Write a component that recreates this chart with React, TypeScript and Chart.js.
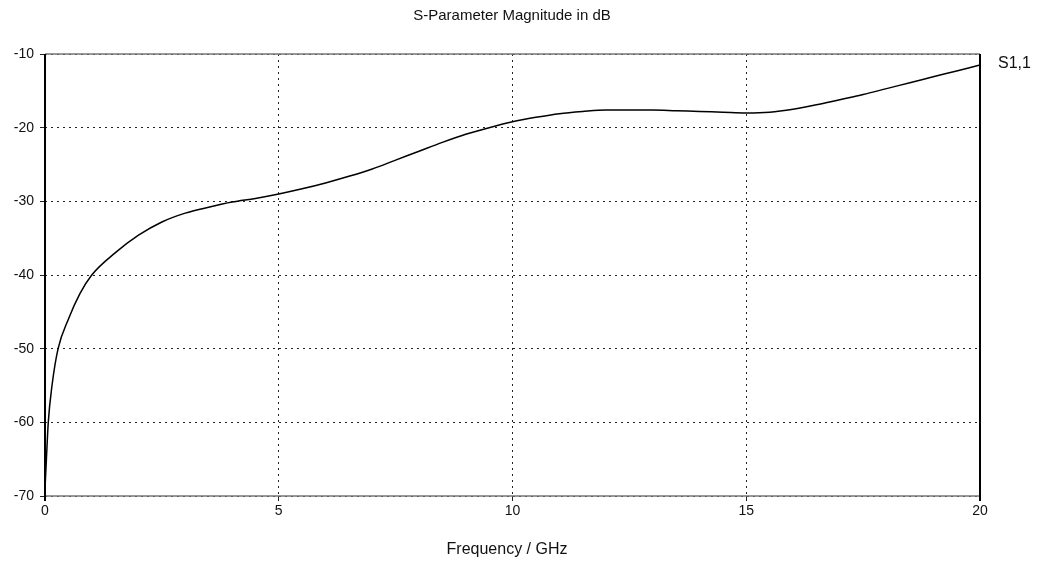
import React, { useEffect, useRef } from "react";
import { Chart, registerables } from "chart.js";

Chart.register(...registerables);

// Frequency sweep (GHz) and S1,1 magnitude (dB)
const frequencyGHz = [
  0, 0.03, 0.07, 0.15, 0.28, 0.5, 0.75, 1.0, 1.5, 2.0, 2.5, 3.0, 3.5, 4.0, 4.5, 5.0,
  5.5, 6.0, 6.5, 7.0, 7.5, 8.0, 8.5, 9.0, 9.5, 10.0, 10.5, 11.0, 11.5, 12.0, 12.5,
  13.0, 13.5, 14.0, 14.5, 15.0, 15.5, 16.0, 16.5, 17.0, 17.5, 18.0, 18.5, 19.0, 19.5, 20.0,
];
const s11dB = [
  -69, -65, -60, -55, -50, -46, -42.5, -40, -37, -34.6, -32.8, -31.6, -30.8, -30.1, -29.6, -29.0,
  -28.3, -27.5, -26.6, -25.6, -24.4, -23.2, -22.0, -20.9, -20.0, -19.2, -18.6, -18.1, -17.8, -17.6, -17.6,
  -17.6, -17.7, -17.8, -17.9, -18.0, -17.9, -17.5, -16.9, -16.2, -15.5, -14.7, -13.9, -13.1, -12.3, -11.5,
];

const seriesName = "S1,1";
const chartTitle = "S-Parameter Magnitude in dB";
const xAxisTitle = "Frequency / GHz";
const xTicks = [0, 5, 10, 15, 20];
const yTicks = [-70, -60, -50, -40, -30, -20, -10];

const FONT = "'Liberation Sans', Arial, sans-serif";

const framePlugin = {
  id: "frameAndLabels",
  afterDraw(chart: any) {
    const { ctx, chartArea, scales } = chart;
    const { left, right, top, bottom } = chartArea;
    ctx.save();
    // top and bottom frame lines (grey)
    ctx.strokeStyle = "#777";
    ctx.lineWidth = 1.5;
    ctx.beginPath();
    ctx.moveTo(left, top);
    ctx.lineTo(right, top);
    ctx.moveTo(left, bottom);
    ctx.lineTo(right, bottom);
    ctx.stroke();
    // left and right frame lines (black)
    ctx.strokeStyle = "#000";
    ctx.lineWidth = 2;
    ctx.beginPath();
    ctx.moveTo(left, top);
    ctx.lineTo(left, bottom + 5);
    ctx.moveTo(right, top);
    ctx.lineTo(right, bottom + 5);
    ctx.stroke();

    // texts
    ctx.fillStyle = "#111";
    ctx.font = `15px ${FONT}`;
    ctx.textAlign = "center";
    ctx.textBaseline = "middle";
    ctx.fillText(chartTitle, 512, 16);
    ctx.font = `16px ${FONT}`;
    ctx.fillText(xAxisTitle, 507, 550);

    // series label at the end of the trace
    const lastY = scales.y.getPixelForValue(s11dB[s11dB.length - 1]);
    ctx.font = `16px ${FONT}`;
    ctx.textAlign = "left";
    ctx.fillText(seriesName, right + 18, lastY - 1);
    ctx.restore();
  },
};

export default function App() {
  const canvasRef = useRef<HTMLCanvasElement | null>(null);

  useEffect(() => {
    if (!canvasRef.current) return;
    const points = frequencyGHz.map((f, i) => ({ x: f, y: s11dB[i] }));
    const chart = new Chart(canvasRef.current, {
      type: "line",
      data: {
        datasets: [
          {
            label: seriesName,
            data: points,
            borderColor: "#000",
            borderWidth: 1.5,
            pointRadius: 0,
            cubicInterpolationMode: "monotone",
            fill: false,
          },
        ],
      },
      options: {
        responsive: false,
        animation: false,
        layout: { padding: { top: 54, right: 57, bottom: 0, left: 0 } },
        plugins: {
          legend: { display: false },
          title: { display: false },
          tooltip: { enabled: false },
        },
        scales: {
          x: {
            type: "linear",
            min: 0,
            max: 20,
            afterBuildTicks: (axis: any) => {
              axis.ticks = xTicks.map((v) => ({ value: v }));
            },
            afterFit: (axis: any) => {
              axis.height = 70;
            },
            grid: {
              color: "#222",
              lineWidth: 1,
              tickLength: 5,
              drawTicks: true,
            },
            border: { display: false, dash: [2, 4] },
            ticks: {
              color: "#111",
              padding: 2,
              font: { family: FONT, size: 14 },
            },
          },
          y: {
            type: "linear",
            min: -70,
            max: -10,
            afterBuildTicks: (axis: any) => {
              axis.ticks = yTicks.map((v) => ({ value: v }));
            },
            afterFit: (axis: any) => {
              axis.width = 45;
            },
            grid: {
              color: "#222",
              lineWidth: 1,
              tickLength: 5,
            },
            border: { display: false, dash: [2, 4] },
            ticks: {
              color: "#111",
              padding: 6,
              font: { family: FONT, size: 14 },
            },
          },
        },
      },
      plugins: [framePlugin],
    });
    return () => chart.destroy();
  }, []);

  return (
    <div style={{ position: "absolute", left: 0, top: 0, width: 1037, height: 566, background: "#fff" }}>
      <canvas ref={canvasRef} width={1037} height={566} style={{ width: 1037, height: 566 }} />
    </div>
  );
}
